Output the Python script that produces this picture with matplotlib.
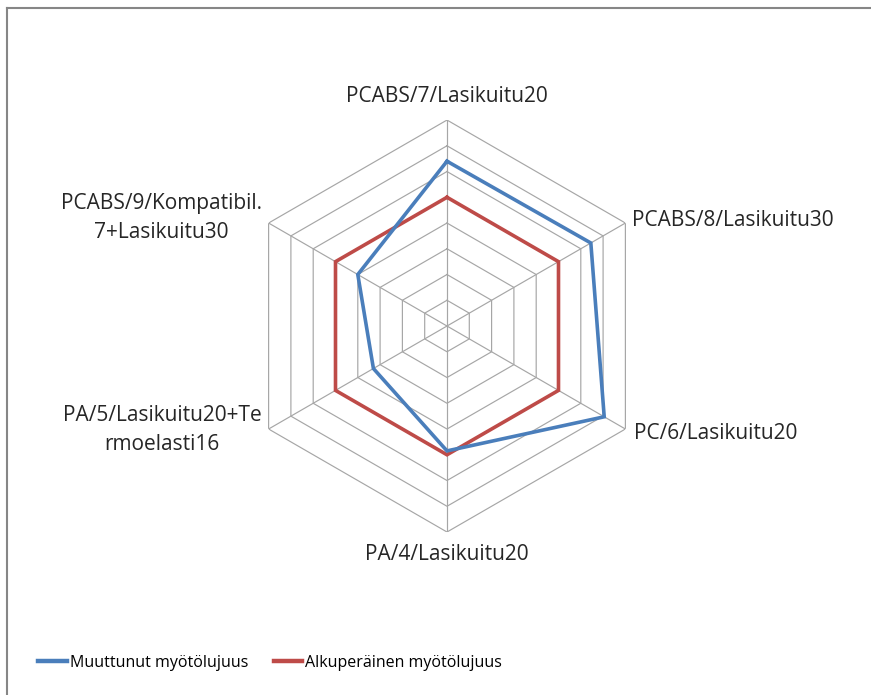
import numpy as np
import matplotlib
matplotlib.use("Agg")
import matplotlib.pyplot as plt
from matplotlib.lines import Line2D

plt.rcParams['font.family'] = ['Open Sans', 'DejaVu Sans']

categories = ['PCABS/7/Lasikuitu20', 'PCABS/8/Lasikuitu30', 'PC/6/Lasikuitu20',
              'PA/4/Lasikuitu20', 'PA/5/Lasikuitu20+Te\nrmoelasti16',
              'PCABS/9/Kompatibil.\n7+Lasikuitu30']
muuttunut = [1.28, 1.29, 1.41, 0.97, 0.66, 0.80]
alkuperainen = [1.0, 1.0, 1.0, 1.0, 1.0, 1.0]
levels = [0.2, 0.4, 0.6, 0.8, 1.0, 1.2, 1.4, 1.6]
rmax = 1.6

blue = '#4a7ebb'
red = '#be4b48'
grid_col = '#a6a6a6'

n = len(categories)
angles = np.linspace(0, 2 * np.pi, n, endpoint=False)
ang_closed = np.append(angles, angles[0])

fig = plt.figure(figsize=(8.71, 6.95), dpi=100)
ax = fig.add_axes([0.2767, 0.2345, 0.473, 0.5928], projection='polar')
ax.set_theta_zero_location('N')
ax.set_theta_direction(-1)
ax.set_ylim(0, rmax)
ax.grid(False)
ax.set_xticks([])
ax.set_yticks([])
ax.spines['polar'].set_visible(False)
ax.patch.set_visible(False)

# hexagonal grid rings and spokes
for lv in levels:
    ax.plot(ang_closed, [lv] * (n + 1), color=grid_col, lw=0.85, zorder=1)
for a in angles:
    ax.plot([a, a], [0, rmax], color=grid_col, lw=0.85, zorder=1)

ax.plot(ang_closed, muuttunut + muuttunut[:1], color=blue, lw=2.6,
        solid_joinstyle='miter', zorder=4)
ax.plot(ang_closed, alkuperainen + alkuperainen[:1], color=red, lw=2.6,
        solid_joinstyle='miter', zorder=3)

# category labels around the outer ring (offsets in points)
placement = [((0, 17), 'center', 'center'),
             ((5, 2), 'left', 'center'),
             ((6, -3.5), 'left', 'center'),
             ((0, -16.5), 'center', 'center'),
             ((-5, -1), 'right', 'center'),
             ((-5, 3.5), 'right', 'center')]
for a, lab, (off, ha, va) in zip(angles, categories, placement):
    ax.annotate(lab, xy=(a, rmax), xytext=off, textcoords='offset points',
                ha=ha, va=va, multialignment='center', fontsize=15,
                linespacing=1.5, color='#262626', annotation_clip=False)

handles = [Line2D([], [], color=blue, lw=3.2),
           Line2D([], [], color=red, lw=3.2)]
fig.legend(handles, ['Muuttunut myötölujuus', 'Alkuperäinen myötölujuus'],
           loc='center', bbox_to_anchor=(0.31, 0.046), ncol=2, frameon=False,
           fontsize=11.5, handlelength=1.8, handletextpad=0.15,
           columnspacing=1.6)

# chart area border (only top and left edges fall inside the canvas)
fig.add_artist(Line2D([0.008, 1.0], [0.988, 0.988], transform=fig.transFigure,
                      color='#868686', lw=1.5))
fig.add_artist(Line2D([0.008, 0.008], [0.0, 0.988], transform=fig.transFigure,
                      color='#868686', lw=1.5))

fig.savefig('out.png', dpi=100, facecolor='white')
